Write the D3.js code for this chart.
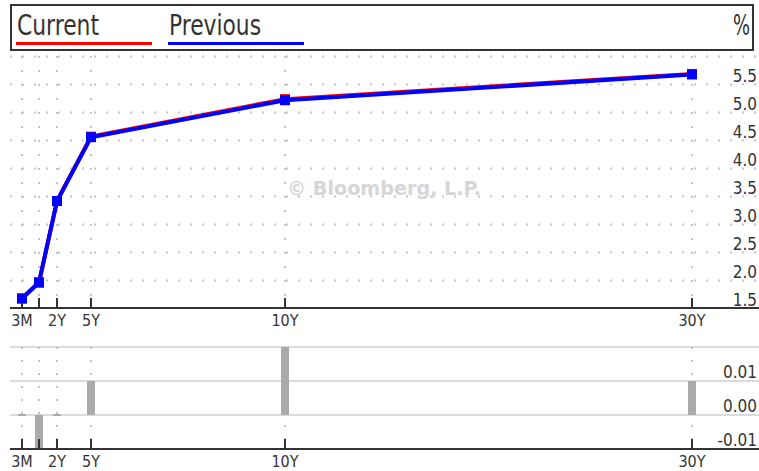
<!DOCTYPE html>
<html>
<head>
<meta charset="utf-8">
<script src="https://cdn.jsdelivr.net/npm/d3@7"></script>
<style>
  body { margin: 0; background: #fff; }
  svg text { font-family: "DejaVu Sans Condensed", "DejaVu Sans", sans-serif; fill: #333; }
</style>
</head>
<body>
<svg id="chart"></svg>
<script>
// Yield curve — current vs previous, with change panel

const tenors = ["3M", "6M", "2Y", "5Y", "10Y", "30Y"];
const tenorYears = [0.25, 0.5, 2, 5, 10, 30];
const tenorLabels = ["3M", "", "2Y", "5Y", "10Y", "30Y"];
const current = [1.67, 1.95, 3.41, 4.56, 5.23, 5.68];
const previous = [1.67, 1.96, 3.41, 4.55, 5.21, 5.67];
const change = [0.00, -0.01, 0.00, 0.01, 0.02, 0.01];
const yTicks = [1.5, 2.0, 2.5, 3.0, 3.5, 4.0, 4.5, 5.0, 5.5];
const cTicks = [-0.01, 0.00, 0.01];
const legendNames = ["Current", "Previous"];

(function () {
  const W = 759, H = 471;
  const RED = "#ff0000", BLUE = "#0000ff", DARK = "#333", DOT = "#c4c4c4";
  const LEFT = 10, RIGHT = W;

  const data = tenors.map((t, i) => ({
    tenor: t, years: tenorYears[i], label: tenorLabels[i],
    cur: current[i], prev: previous[i], chg: change[i]
  }));

  const svg = d3.select("#chart").attr("width", W).attr("height", H);

  // Header box with legend
  svg.append("rect")
    .attr("x", 11).attr("y", 5).attr("width", 742).attr("height", 45)
    .attr("fill", "#fff").attr("stroke", DARK).attr("stroke-width", 2);

  const legend = svg.append("g");
  [RED, BLUE].forEach((c, i) => {
    const lx = 16 + i * 152;
    legend.append("text")
      .attr("x", lx + 1).attr("y", 35)
      .attr("font-size", 28)
      .attr("textLength", i === 0 ? 82 : 92)
      .attr("lengthAdjust", "spacingAndGlyphs")
      .text(legendNames[i]);
    legend.append("line")
      .attr("x1", lx).attr("x2", lx + 136)
      .attr("y1", 43.5).attr("y2", 43.5)
      .attr("stroke", c).attr("stroke-width", 3);
  });
  svg.append("text")
    .attr("x", 750).attr("y", 35)
    .attr("text-anchor", "end")
    .attr("font-size", 28)
    .attr("textLength", 17).attr("lengthAdjust", "spacingAndGlyphs")
    .text("%");

  // Scales (tenor axis is piecewise, as on the terminal chart)
  const x = d3.scaleLinear()
    .domain(tenorYears)
    .range([22, 39, 57, 91, 285, 692]);

  const y = d3.scaleLinear().domain([1.5, 6.0]).range([308, 56]);
  const yc = d3.scaleLinear().domain([-0.01, 0.02]).range([449, 347]);

  // Main panel grid
  const main = svg.append("g");
  main.selectAll(".hgrid")
    .data(yTicks.concat([6.0]).filter(v => v > 1.5))
    .join("line")
    .attr("x1", LEFT).attr("x2", RIGHT)
    .attr("y1", d => y(d) + 0.5).attr("y2", d => y(d) + 0.5)
    .attr("stroke", DOT).attr("stroke-width", 2)
    .attr("stroke-dasharray", "2,10");

  main.selectAll(".vgrid")
    .data(data)
    .join("line")
    .attr("x1", d => x(d.years)).attr("x2", d => x(d.years))
    .attr("y1", y(6.0)).attr("y2", y(1.5))
    .attr("stroke", DOT).attr("stroke-width", 2)
    .attr("stroke-dasharray", "2,12");

  // Watermark
  main.append("text")
    .attr("x", 287).attr("y", 195)
    .attr("font-family", "'DejaVu Sans', sans-serif")
    .attr("font-weight", "bold").attr("font-size", 19)
    .attr("textLength", 194).attr("lengthAdjust", "spacingAndGlyphs")
    .style("fill", "#d6d6d6")
    .text("\u00A9 Bloomberg, L.P.");

  // Main axis
  main.append("line")
    .attr("x1", LEFT).attr("x2", RIGHT)
    .attr("y1", 308).attr("y2", 308)
    .attr("stroke", DARK).attr("stroke-width", 2);

  main.selectAll(".tick")
    .data(data)
    .join("line")
    .attr("x1", d => x(d.years)).attr("x2", d => x(d.years))
    .attr("y1", 298).attr("y2", 308)
    .attr("stroke", DARK).attr("stroke-width", 2);

  main.selectAll(".tlabel")
    .data(data)
    .join("text")
    .attr("x", d => x(d.years)).attr("y", 326)
    .attr("text-anchor", "middle").attr("font-size", 16)
    .text(d => d.label);

  main.selectAll(".ylabel")
    .data(yTicks)
    .join("text")
    .attr("x", 757).attr("y", d => y(d) - 2)
    .attr("text-anchor", "end").attr("font-size", 17)
    .text(d => d.toFixed(1));

  // Lines: current under previous
  const lineCur = d3.line().x(d => x(d.years)).y(d => y(d.cur));
  const linePrev = d3.line().x(d => x(d.years)).y(d => y(d.prev));

  main.append("path").datum(data)
    .attr("fill", "none").attr("stroke", RED).attr("stroke-width", 4)
    .attr("d", lineCur);
  main.selectAll(".sqc").data(data).join("rect")
    .attr("x", d => x(d.years) - 5).attr("y", d => y(d.cur) - 5)
    .attr("width", 10).attr("height", 10).attr("fill", RED);

  main.append("path").datum(data)
    .attr("fill", "none").attr("stroke", BLUE).attr("stroke-width", 4)
    .attr("d", linePrev);
  main.selectAll(".sqp").data(data).join("rect")
    .attr("x", d => x(d.years) - 5).attr("y", d => y(d.prev) - 5)
    .attr("width", 10).attr("height", 10).attr("fill", BLUE);

  // Change panel
  const low = svg.append("g");
  low.selectAll(".cgrid")
    .data([0.02, 0.01, 0.00])
    .join("line")
    .attr("x1", LEFT).attr("x2", RIGHT)
    .attr("y1", d => yc(d)).attr("y2", d => yc(d))
    .attr("stroke", "#dcdcdc").attr("stroke-width", 2);

  low.selectAll(".cv")
    .data(data)
    .join("line")
    .attr("x1", d => x(d.years)).attr("x2", d => x(d.years))
    .attr("y1", yc(0.02)).attr("y2", yc(-0.01))
    .attr("stroke", DOT).attr("stroke-width", 2)
    .attr("stroke-dasharray", "2,11");

  low.selectAll(".bar")
    .data(data)
    .join("rect")
    .attr("x", d => x(d.years) - 4)
    .attr("width", 8)
    .attr("y", d => Math.min(yc(d.chg), yc(0)) - (d.chg === 0 ? 1 : 0))
    .attr("height", d => Math.max(2, Math.abs(yc(d.chg) - yc(0))))
    .attr("fill", "#aaaaaa");

  low.append("line")
    .attr("x1", LEFT).attr("x2", RIGHT)
    .attr("y1", 449).attr("y2", 449)
    .attr("stroke", DARK).attr("stroke-width", 2);

  low.selectAll(".ctick")
    .data(data)
    .join("line")
    .attr("x1", d => x(d.years)).attr("x2", d => x(d.years))
    .attr("y1", 439).attr("y2", 449)
    .attr("stroke", DARK).attr("stroke-width", 2);

  low.selectAll(".ctl")
    .data(data)
    .join("text")
    .attr("x", d => x(d.years)).attr("y", 467)
    .attr("text-anchor", "middle").attr("font-size", 16)
    .text(d => d.label);

  low.selectAll(".cyl")
    .data(cTicks)
    .join("text")
    .attr("x", 757).attr("y", d => yc(d) - 3)
    .attr("text-anchor", "end").attr("font-size", 17)
    .text(d => d.toFixed(2));
})();
</script>
</body>
</html>
